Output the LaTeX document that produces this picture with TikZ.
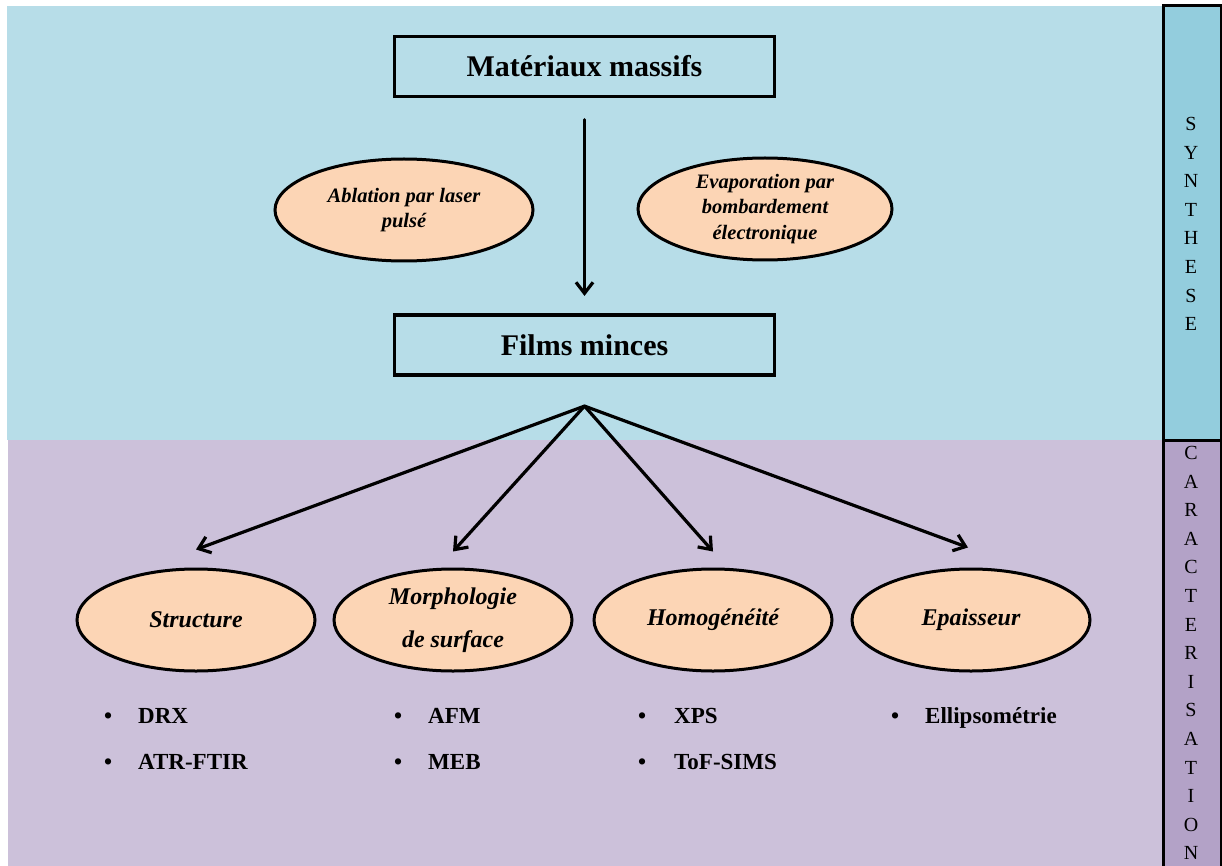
\documentclass[tikz,border=0pt]{standalone}
\usepackage{fontspec}
\setmainfont{Liberation Serif}
\usetikzlibrary{shapes.geometric,arrows.meta}
\definecolor{bgblue}{HTML}{B7DDE8}
\definecolor{bgpurple}{HTML}{CCC1DA}
\definecolor{barblue}{HTML}{93CDDD}
\definecolor{barpurple}{HTML}{B3A2C7}
\definecolor{ellfill}{HTML}{FCD5B5}
\begin{document}
\begin{tikzpicture}[x=1pt,y=-1pt,
  box/.style={draw, line width=3.2pt, minimum width=380pt, minimum height=60pt, inner sep=0pt,
    font=\fontsize{30}{36}\selectfont\bfseries},
  topell/.style={ellipse, draw, line width=3pt, fill=ellfill, inner sep=0pt, align=center,
    font=\fontsize{20.5}{25.5}\selectfont\bfseries\itshape},
  botell/.style={ellipse, draw, line width=3pt, fill=ellfill, inner sep=0pt, align=center,
    minimum width=238pt, minimum height=102pt,
    font=\fontsize{24}{43}\selectfont\bfseries\itshape},
  arr/.style={line width=3.2pt, line cap=round, -{Straight Barb[length=11pt,width=17pt,line width=3.2pt]}},
  item/.style={anchor=base west, inner sep=0pt, font=\fontsize{23}{28}\selectfont\bfseries},
  vert/.style={align=center, inner sep=0pt, font=\fontsize{20}{28.6}\selectfont}
]
\useasboundingbox (0,0) rectangle (1222,866);
% backgrounds
\fill[bgblue] (7,6) rectangle (1163,440);
\fill[bgpurple] (8,440) rectangle (1163,866);
\fill[barblue] (1163,6) rectangle (1222,440);
\fill[barpurple] (1163,440) rectangle (1222,866);
\draw[line width=3pt] (1163,872) -- (1163,6) -- (1221,6) -- (1221,872);
\draw[line width=3pt] (1163,440) -- (1221,440);
% side labels
\node[vert] (syn) at (1191,224) {S\\Y\\N\\T\\H\\E\\S\\E};
\node[vert] (car) at (1191,653) {C\\A\\R\\A\\C\\T\\E\\R\\I\\S\\A\\T\\I\\O\\N};
% top part
\node[box] (mat) at (584.5,66.5) {Matériaux massifs};
\node[box] (films) at (584.5,345) {Films minces};
\node[topell, minimum width=258pt, minimum height=102pt] (abl) at (404,210) {Ablation par laser\\pulsé};
\node[topell, minimum width=254pt, minimum height=102pt] (evap) at (765,209) {Evaporation par\\bombardement\\électronique};
\draw[arr] ([yshift=-21.5pt]mat.south) -- ([yshift=17.5pt]films.north);
% characterisation
\coordinate (fan) at ([yshift=-29.5pt]films.south);
\node[botell] (struct) at (196,620) {\raisebox{-3pt}{Structure}};
\node[botell] (morph) at (453,620) {Morphologie\\de surface};
\node[botell] (homog) at (713,620) {\raisebox{-3pt}{Homogénéité}};
\node[botell] (epais) at (971,620) {\raisebox{-3pt}{Epaisseur}};
\draw[arr] (fan) -- ([yshift=18pt]struct.north);
\draw[arr] (fan) -- ([yshift=16pt]morph.north);
\draw[arr] (fan) -- ([yshift=16pt]homog.north);
\draw[arr] (fan) -- ([xshift=-3pt,yshift=20pt]epais.north);
% techniques
\node[item] (drx) at (104,723) {\makebox[34pt][l]{•}DRX};
\node[item] (atr) at (104,769) {\makebox[34pt][l]{•}ATR-FTIR};
\node[item] (afm) at (394,723) {\makebox[34pt][l]{•}AFM};
\node[item] (meb) at (394,769) {\makebox[34pt][l]{•}MEB};
\node[item] (xps) at (638,723) {\makebox[36pt][l]{•}XPS};
\node[item] (tof) at (638,769) {\makebox[36pt][l]{•}ToF-SIMS};
\node[item] (ell) at (891,723) {\makebox[34pt][l]{•}Ellipsométrie};
\end{tikzpicture}
\end{document}
